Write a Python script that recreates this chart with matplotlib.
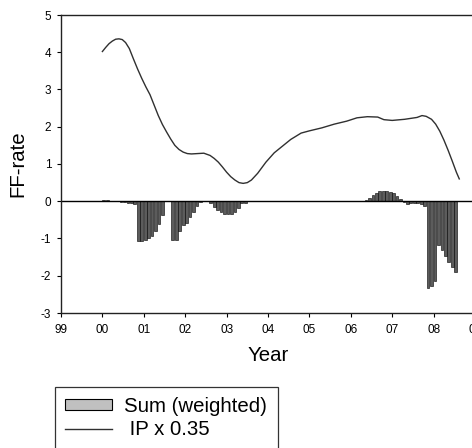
import numpy as np
import matplotlib
matplotlib.use("Agg")
import matplotlib.pyplot as plt
from matplotlib.patches import Patch
from matplotlib.lines import Line2D

plt.rcParams['font.family'] = ['Liberation Sans', 'DejaVu Sans']
plt.rcParams['axes.unicode_minus'] = False

# monthly bars, month index counted from Jan 2000
bar_month = [0, 1,
             5, 6, 7, 8, 9,
             10, 11, 12, 13, 14, 15, 16, 17,
             20, 21, 22, 23, 24, 25, 26, 27, 28,
             31, 32, 33, 34, 35, 36, 37, 38, 39, 40, 41,
             76, 77, 78, 79, 80, 81, 82, 83, 84, 85, 86,
             87, 88, 89, 90, 91, 92, 93,
             94, 95, 96, 97, 98, 99, 100, 101, 102]
bar_value = [0.04, 0.03,
             -0.02, -0.03, -0.04, -0.06, -0.08,
             -1.07, -1.06, -1.04, -1.00, -0.93, -0.80, -0.62, -0.38,
             -1.05, -1.04, -0.80, -0.65, -0.58, -0.42, -0.28, -0.12, -0.03,
             -0.05, -0.15, -0.23, -0.30, -0.33, -0.35, -0.35, -0.30, -0.18, -0.06, -0.04,
             0.03, 0.10, 0.17, 0.23, 0.27, 0.28, 0.28, 0.26, 0.22, 0.15, 0.07,
             -0.03, -0.07, -0.05, -0.04, -0.05, -0.08, -0.12,
             -2.33, -2.27, -2.15, -1.17, -1.30, -1.47, -1.62, -1.77, -1.90]

# IP x 0.35 curve
ip_year = [2000.0, 2000.08, 2000.16, 2000.24, 2000.32, 2000.4, 2000.48, 2000.56,
           2000.65, 2000.75, 2000.85, 2000.95, 2001.05, 2001.15,
           2001.25, 2001.35, 2001.45, 2001.55, 2001.65, 2001.75, 2001.85,
           2001.95, 2002.05, 2002.15, 2002.3, 2002.45, 2002.6,
           2002.7, 2002.8, 2002.9, 2003.0, 2003.1, 2003.2, 2003.3, 2003.4,
           2003.5, 2003.6, 2003.75, 2003.95, 2004.15,
           2004.35, 2004.55, 2004.8, 2005.0, 2005.3, 2005.6, 2005.9, 2006.15,
           2006.4, 2006.65, 2006.8, 2007.0, 2007.3, 2007.6, 2007.72, 2007.82,
           2007.95, 2008.05, 2008.15, 2008.25, 2008.35, 2008.45, 2008.55, 2008.62]
ip_value = [4.02, 4.13, 4.23, 4.30, 4.35, 4.36, 4.34, 4.26,
            4.10, 3.82, 3.55, 3.30, 3.07, 2.86,
            2.58, 2.30, 2.06, 1.86, 1.67, 1.50, 1.39,
            1.32, 1.28, 1.27, 1.28, 1.29, 1.23,
            1.15, 1.05, 0.92, 0.78, 0.66, 0.57, 0.50, 0.48,
            0.50, 0.57, 0.75, 1.05, 1.30,
            1.48, 1.66, 1.83, 1.89, 1.97, 2.07, 2.15, 2.24,
            2.27, 2.26, 2.19, 2.17, 2.20, 2.25, 2.30, 2.28,
            2.20, 2.07, 1.88, 1.64, 1.37, 1.08, 0.78, 0.60]

xtick_labels = ['99', '00', '01', '02', '03', '04', '05', '06', '07', '08', '09']

fig = plt.figure(figsize=(4.72, 4.48), dpi=100)
ax = fig.add_axes([61 / 472, 1 - 313 / 448, 414 / 472, 298 / 448])

bar_x = 2000 + np.array(bar_month) / 12.0
ax.bar(bar_x, bar_value, width=0.8 / 12, align='edge', color='#5c5c5c',
       edgecolor='black', linewidth=0.4)
ax.plot(ip_year, ip_value, color='#303030', linewidth=1.0)
ax.axhline(0, color='black', linewidth=1.0)

ax.set_xlim(1999, 2009)
ax.set_ylim(-3, 5)
ax.set_xticks(np.arange(1999, 2010))
ax.set_xticklabels(xtick_labels)
ax.set_yticks(np.arange(-3, 6))
ax.tick_params(direction='out', length=3, width=0.8, labelsize=8.5)
ax.tick_params(axis='y', pad=4)
ax.tick_params(axis='x', pad=5)
ax.spines['right'].set_visible(False)
for s in ['left', 'bottom', 'top']:
    ax.spines[s].set_linewidth(1.0)
    ax.spines[s].set_color('#222222')

ax.set_ylabel('FF-rate', fontsize=14.7)
ax.yaxis.set_label_coords(-0.082, 0.5)
ax.set_xlabel('Year', fontsize=14.7)
ax.xaxis.set_label_coords(0.5, -0.112)

handles = [Patch(facecolor='#c0c0c0', edgecolor='black', linewidth=0.8),
           Line2D([], [], color='#303030', linewidth=1.0)]
leg = fig.legend(handles, ['Sum (weighted)', ' IP x 0.35'], loc='upper left',
                 bbox_to_anchor=(55 / 472, 1 - 387 / 448), fontsize=14.7,
                 frameon=True, fancybox=False, handlelength=2.3,
                 handleheight=0.45, handletextpad=0.6, labelspacing=0.2,
                 borderpad=0.5, borderaxespad=0)
leg.get_frame().set_edgecolor('black')
leg.get_frame().set_linewidth(0.9)

fig.savefig('out.png', dpi=100)
